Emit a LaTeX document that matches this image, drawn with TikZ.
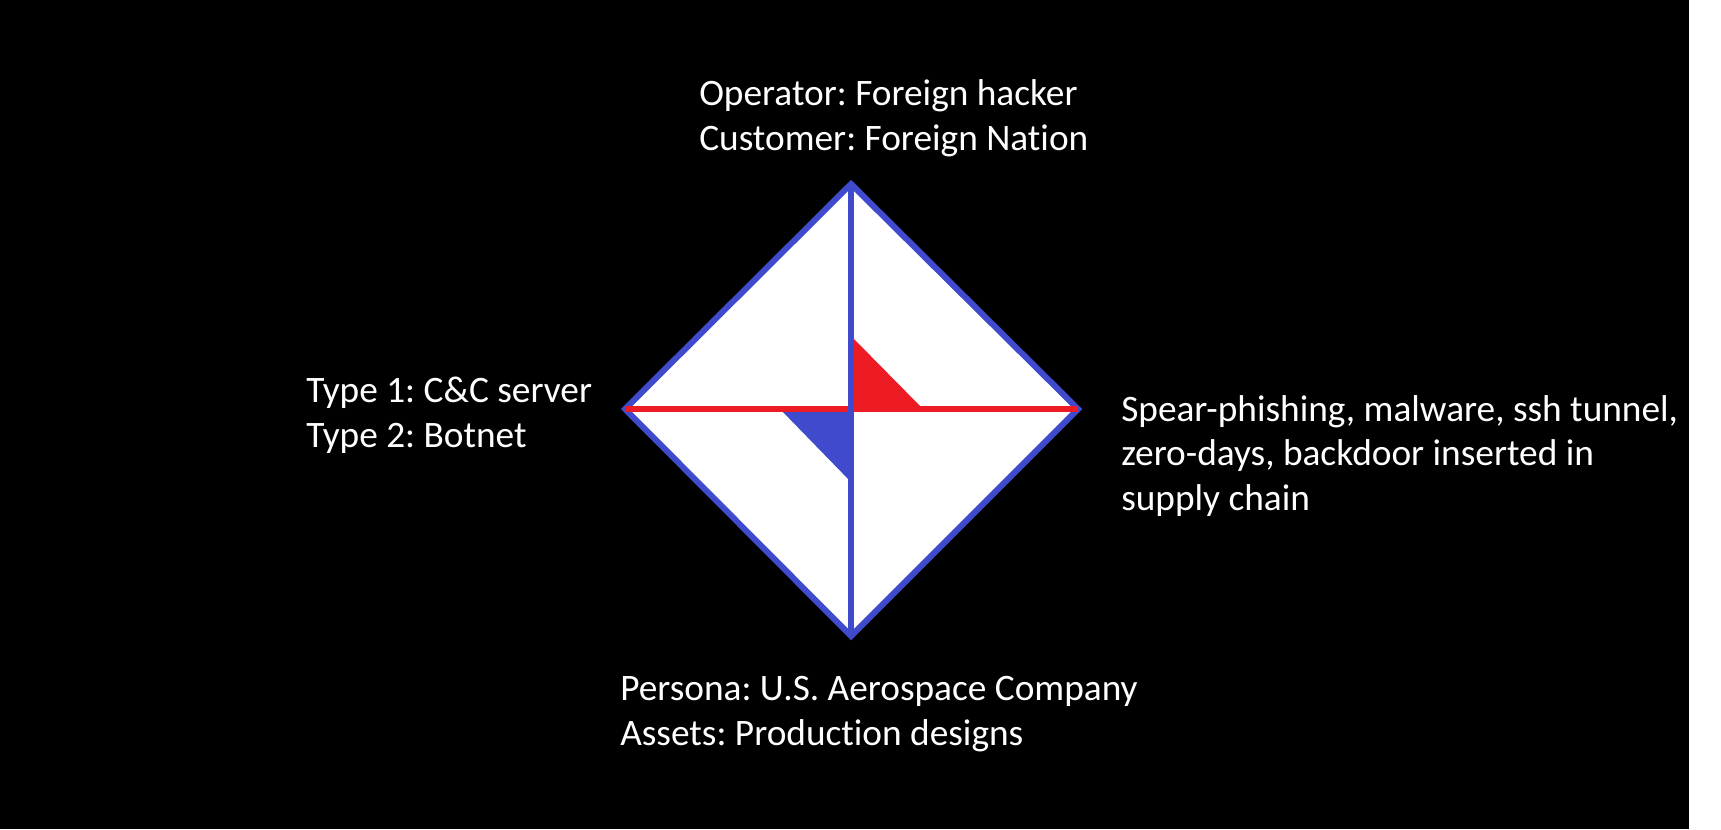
\documentclass[tikz,border=0pt]{standalone}
\usepackage{fontspec}
\setmainfont{Carlito}[Ligatures=NoCommon]
\definecolor{dblue}{HTML}{404ACC}
\definecolor{dred}{HTML}{ED1C24}
\begin{document}
\frenchspacing
\begin{tikzpicture}[x=0.75pt,y=-0.75pt,
  lbl/.style={text=white,font=\fontsize{28}{33.6}\selectfont,align=left,inner sep=0pt,anchor=west},
  edge/.style={draw=dblue,line width=4.5pt,line join=miter},
  axis/.style={draw=dred,line width=4.2pt}]
\useasboundingbox (0,0) rectangle (1721,829);
\fill[white] (0,0) rectangle (1721,829);
\fill[black] (0,0) rectangle (1689,829);
% diamond corners
\coordinate (T) at (851,184);
\coordinate (B) at (851,636);
\coordinate (L) at (625,409);
\coordinate (R) at (1078,409);
\coordinate (C) at (851,409);
\fill[white] (T) -- (R) -- (B) -- (L) -- cycle;
% small triangles
\coordinate (rt) at (853,338);
\coordinate (rr) at (923,409);
\coordinate (bl) at (780,409);
\coordinate (bb) at (851,482);
\fill[dred] (rt) -- (C) -- (rr) -- cycle;
\fill[dblue] (bl) -- (C) -- (bb) -- cycle;
\draw[edge] (T) -- (R) -- (B) -- (L) -- cycle;
\draw[axis,line cap=butt] (L) -- (R);
\draw[edge,line cap=butt] (T) -- (B);
% labels
\node[lbl] (top) at (699,118.5) {Operator: Foreign hacker\\Customer: Foreign Nation};
\node[lbl] (left) at (306,415) {Type 1: C\&C server\\Type 2: Botnet};
\node[lbl] (right) at (1121,456) {Spear-phishing, malware, ssh tunnel,\\zero-days, backdoor inserted in\\supply chain};
\node[lbl] (bottom) at (620,714) {Persona: U.S. Aerospace Company\\Assets: Production designs};
\end{tikzpicture}
\end{document}
